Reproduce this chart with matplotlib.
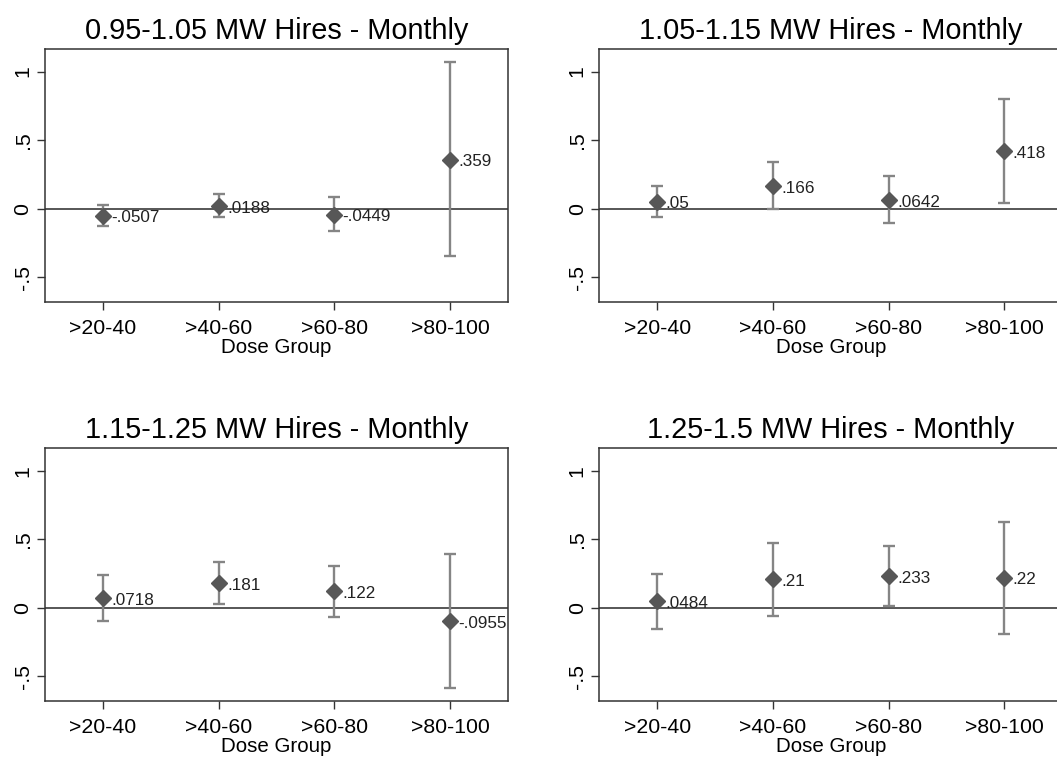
import matplotlib
matplotlib.use("Agg")
import matplotlib.pyplot as plt

plt.rcParams['font.family'] = ['Liberation Sans', 'DejaVu Sans']

categories = [">20-40", ">40-60", ">60-80", ">80-100"]
titles = ["0.95-1.05 MW Hires - Monthly", "1.05-1.15 MW Hires - Monthly",
          "1.15-1.25 MW Hires - Monthly", "1.25-1.5 MW Hires - Monthly"]

est_095 = [-0.0507, 0.0188, -0.0449, 0.359]
lo_095 = [-0.124, -0.061, -0.163, -0.345]
hi_095 = [0.029, 0.107, 0.083, 1.068]

est_105 = [0.05, 0.166, 0.0642, 0.418]
lo_105 = [-0.063, -0.005, -0.106, 0.041]
hi_105 = [0.169, 0.341, 0.242, 0.80]

est_115 = [0.0718, 0.181, 0.122, -0.0955]
lo_115 = [-0.097, 0.027, -0.066, -0.582]
hi_115 = [0.243, 0.338, 0.309, 0.392]

est_125 = [0.0484, 0.21, 0.233, 0.22]
lo_125 = [-0.151, -0.061, 0.015, -0.192]
hi_125 = [0.248, 0.477, 0.450, 0.630]

labels_095 = ["-.0507", ".0188", "-.0449", ".359"]
labels_105 = [".05", ".166", ".0642", ".418"]
labels_115 = [".0718", ".181", ".122", "-.0955"]
labels_125 = [".0484", ".21", ".233", ".22"]

yticks = [-0.5, 0, 0.5, 1]
yticklabels = ["-.5", "0", ".5", "1"]

panels = [
    (titles[0], est_095, lo_095, hi_095, labels_095, [0.0426, 0.6016, 0.438, 0.3338]),
    (titles[1], est_105, lo_105, hi_105, labels_105, [0.567, 0.6016, 0.438, 0.3338]),
    (titles[2], est_115, lo_115, hi_115, labels_115, [0.0426, 0.0752, 0.438, 0.3334]),
    (titles[3], est_125, lo_125, hi_125, labels_125, [0.567, 0.0752, 0.438, 0.3334]),
]

fig = plt.figure(figsize=(10.57, 7.58), dpi=100)
marker_col = "#575757"
bar_col = "#858585"
axis_col = "#333333"

for title, est, lo, hi, labs, pos in panels:
    ax = fig.add_axes(pos)
    x = list(range(1, len(categories) + 1))
    ax.axhline(0, color="#3a3a3a", lw=1.2, zorder=1)
    yerr = [[e - l for e, l in zip(est, lo)], [h - e for e, h in zip(est, hi)]]
    ax.errorbar(x, est, yerr=yerr, fmt='none', ecolor=bar_col, elinewidth=1.7,
                capsize=4.2, capthick=1.7, zorder=2)
    ax.plot(x, est, linestyle='none', marker='D', markersize=8.5,
            color=marker_col, markeredgecolor=marker_col, zorder=3)
    for xi, yi, lab in zip(x, est, labs):
        ax.annotate(lab, (xi, yi), xytext=(6, -1.5), textcoords='offset points',
                    ha='left', va='center', fontsize=12.3, color="#222222", zorder=4)
    ax.set_xlim(0.5, 4.5)
    ax.set_ylim(-0.68, 1.165)
    ax.set_xticks(x)
    ax.set_xticklabels(categories, fontsize=15.3)
    ax.set_yticks(yticks)
    ax.set_yticklabels(yticklabels, fontsize=15.3, rotation=90, va='center')
    ax.tick_params(axis='x', length=5.5, width=1, color=axis_col, pad=6.5)
    ax.tick_params(axis='y', length=6, width=1, color=axis_col, pad=3)
    for sp in ax.spines.values():
        sp.set_color(axis_col)
        sp.set_linewidth(1.1)
    ax.set_xlabel("Dose Group", fontsize=14.8, labelpad=0)
    ax.set_title(title, fontsize=20.8, pad=7.5)

fig.savefig("out.png", dpi=100)
